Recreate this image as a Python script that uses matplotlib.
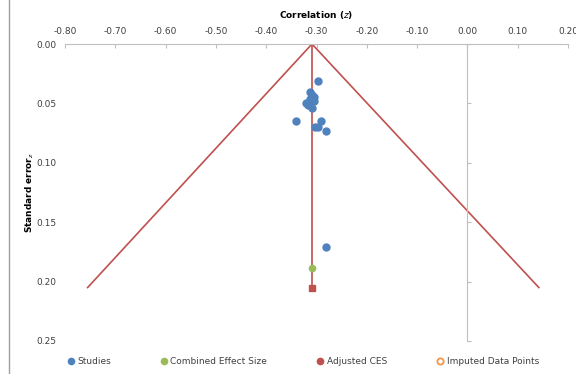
import matplotlib.pyplot as plt
from matplotlib.lines import Line2D

# studies (correlation z, standard error)
study_z = [-0.298, -0.312, -0.308, -0.304, -0.312, -0.304, -0.320, -0.316,
           -0.308, -0.340, -0.292, -0.302, -0.298, -0.282, -0.282]
study_se = [0.031, 0.040, 0.043, 0.045, 0.046, 0.048, 0.050, 0.051,
            0.054, 0.065, 0.065, 0.070, 0.070, 0.073, 0.171]

ces_z, ces_se = [-0.308], [0.1886]
adj_z, adj_se = [-0.308], [0.205]
imputed_z, imputed_se = [], []

# funnel (left end, apex, right end) and adjusted CES line
funnel_z = [-0.755, -0.309, 0.142]
funnel_se = [0.205, 0.0, 0.205]
adj_line_z = [-0.308, -0.308]
adj_line_se = [0.0, 0.205]

xticks = [-0.8, -0.7, -0.6, -0.5, -0.4, -0.3, -0.2, -0.1, 0.0, 0.1, 0.2]
yticks = [0.0, 0.05, 0.10, 0.15, 0.20, 0.25]

BLUE = "#4F81BD"
GREEN = "#9BBB59"
RED = "#C0504D"
ORANGE = "#F79646"
GRID = "#BFBFBF"
TXT = "#404040"

plt.rcParams["font.family"] = ["DejaVu Sans"]

fig = plt.figure(figsize=(5.76, 3.74), dpi=100)
ax = fig.add_axes([65 / 576, 1 - 341 / 374, (568 - 65) / 576, (341 - 44) / 374])

ax.plot(funnel_z, funnel_se, color=RED, linewidth=1.2)
ax.plot(adj_line_z, adj_line_se, color=RED, linewidth=1.2)
ax.plot(study_z, study_se, "o", color=BLUE, markersize=5)
ax.plot(ces_z, ces_se, "o", color=GREEN, markersize=4.5)
ax.plot(adj_z, adj_se, "s", color=RED, markersize=4.5)
ax.plot(imputed_z, imputed_se, "o", markerfacecolor="none", markeredgecolor=ORANGE,
        markeredgewidth=1.3, markersize=5)

ax.set_xlim(-0.8, 0.2)
ax.set_ylim(0.25, 0.0)

ax.set_xticks(xticks)
ax.set_xticklabels([f"{v:.2f}" for v in xticks])
ax.set_yticks(yticks)
ax.set_yticklabels([f"{v:.2f}" for v in yticks])

for s in ["left", "bottom"]:
    ax.spines[s].set_visible(False)
ax.spines["top"].set_color(GRID)
ax.spines["right"].set_color(GRID)
ax.spines["right"].set_position(("data", 0))

ax.xaxis.set_ticks_position("top")
ax.tick_params(axis="x", direction="in", length=3, color=GRID, pad=6,
               labelsize=6.5, labelcolor=TXT)
ax.yaxis.set_ticks_position("both")
ax.tick_params(axis="y", which="both", left=False, right=True, labelleft=True,
               labelright=False, direction="out", length=3, color=GRID,
               labelsize=6.5, labelcolor=TXT, pad=3)

ax.set_xlabel("Correlation ($z$)", fontsize=6.5, fontweight="bold", labelpad=6)
ax.xaxis.set_label_position("top")
ax.set_ylabel("Standard error$_z$", fontsize=6.5, fontweight="bold")
ax.yaxis.set_label_coords(-0.058, 0.5)

handles = [
    Line2D([], [], marker="o", linestyle="", color=BLUE, markersize=4.5),
    Line2D([], [], marker="o", linestyle="", color=GREEN, markersize=4.5),
    Line2D([], [], marker="o", linestyle="", color=RED, markersize=4.5),
    Line2D([], [], marker="o", linestyle="", markerfacecolor="none",
           markeredgecolor=ORANGE, markeredgewidth=1.3, markersize=4.5),
]
labels = ["Studies", "Combined Effect Size", "Adjusted CES", "Imputed Data Points"]
fig.legend(handles, labels, loc="lower center", bbox_to_anchor=(0.525, 0.0), ncol=4,
           frameon=False, fontsize=6.5, handletextpad=0.2, columnspacing=5.4,
           handlelength=1, labelcolor=TXT)

fig.add_artist(Line2D([9 / 576, 9 / 576], [0, 1], transform=fig.transFigure,
                      color="#A0A0A0", linewidth=1))

plt.savefig("out.png", dpi=100)
